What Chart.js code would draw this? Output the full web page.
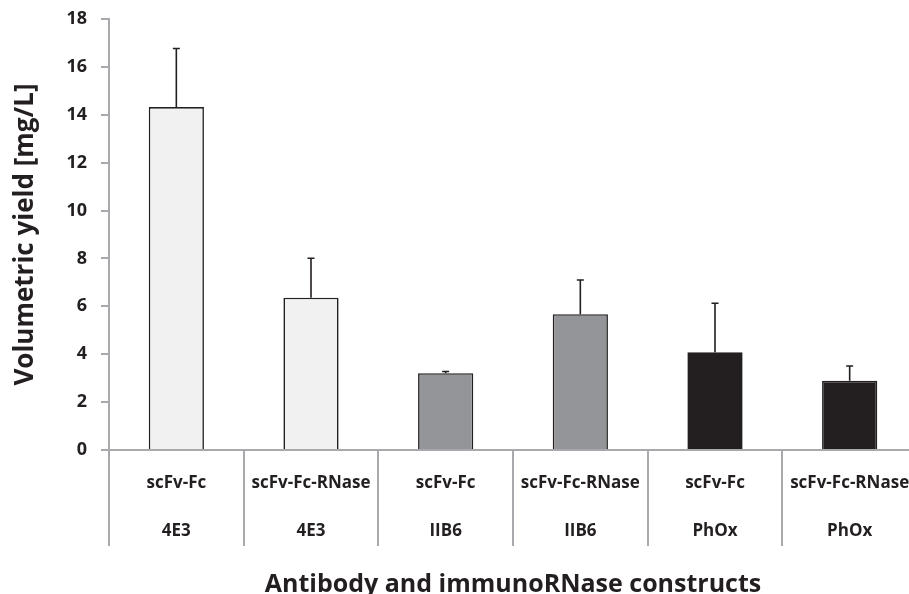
<!DOCTYPE html>
<html>
<head>
<meta charset="utf-8">
<script src="https://cdn.jsdelivr.net/npm/chart.js@4/dist/chart.umd.min.js"></script>
<style>
  html, body { margin: 0; padding: 0; background: #fff; overflow: hidden; }
  #wrap { position: relative; width: 920px; height: 600px; }
</style>
</head>
<body>
<div id="wrap"><canvas id="yieldChart"></canvas></div>
<script>
// data
const constructs = ['scFv-Fc', 'scFv-Fc-RNase', 'scFv-Fc', 'scFv-Fc-RNase', 'scFv-Fc', 'scFv-Fc-RNase'];
const antibodies = ['4E3', '4E3', 'IIB6', 'IIB6', 'PhOx', 'PhOx'];
const yields = [14.32, 6.36, 3.21, 5.67, 4.08, 2.89];
const yieldSd = [2.45, 1.65, 0.07, 1.43, 2.05, 0.62];
const yTicks = [0, 2, 4, 6, 8, 10, 12, 14, 16, 18];

const fills = ['#f0f1f0', '#f0f1f0', '#939598', '#939598', '#231f20', '#231f20'];
const axisGray = '#a7a9ac';
const textColor = '#231f20';

// upper error bars + separators between the two label rows
const extrasPlugin = {
    id: 'extras',
    afterDatasetsDraw(chart) {
        const ctx = chart.ctx;
        const meta = chart.getDatasetMeta(0);
        const y = chart.scales.y;
        ctx.save();
        ctx.strokeStyle = '#231f20';
        ctx.lineWidth = 1.6;
        meta.data.forEach((bar, i) => {
            const top = y.getPixelForValue(yields[i]);
            const end = y.getPixelForValue(yields[i] + yieldSd[i]);
            ctx.beginPath();
            ctx.moveTo(bar.x, top);
            ctx.lineTo(bar.x, end);
            ctx.moveTo(bar.x - 3.5, end);
            ctx.lineTo(bar.x + 3.5, end);
            ctx.stroke();
        });
        ctx.restore();
    },
    afterDraw(chart) {
        const ctx = chart.ctx;
        const x = chart.scales.x;
        const base = chart.chartArea.bottom;
        const half = (x.getPixelForValue(1) - x.getPixelForValue(0)) / 2;
        ctx.save();
        ctx.strokeStyle = axisGray;
        ctx.lineWidth = 2;
        for (let i = 0; i <= constructs.length; i++) {
            const px = Math.round(x.getPixelForValue(0) - half + i * 2 * half);
            ctx.beginPath();
            ctx.moveTo(px, base);
            ctx.lineTo(px, base + 96);
            ctx.stroke();
        }
        ctx.restore();
    }
};

new Chart(document.getElementById('yieldChart'), {
    type: 'bar',
    data: {
        labels: constructs.map((c, i) => [c, antibodies[i]]),
        datasets: [{
            data: yields,
            backgroundColor: fills,
            borderColor: '#231f20',
            borderWidth: 1.6,
            borderSkipped: 'bottom',
            categoryPercentage: 1,
            barPercentage: 0.41
        }]
    },
    options: {
        responsive: true,
        maintainAspectRatio: false,
        animation: false,
        layout: { padding: { top: 19, right: 3, left: 0, bottom: 0 } },
        plugins: {
            legend: { display: false },
            tooltip: { enabled: false }
        },
        scales: {
            x: {
                grid: { display: false, drawTicks: false },
                border: { color: axisGray, width: 2 },
                ticks: {
                    color: textColor,
                    padding: 9,
                    maxRotation: 0,
                    autoSkip: false,
                    font: { family: 'Open Sans', weight: 'bold', size: 17, lineHeight: '48px' }
                },
                title: {
                    display: true,
                    text: 'Antibody and immunoRNase constructs',
                    color: textColor,
                    font: { family: 'Open Sans', weight: 'bold', size: 25 },
                    padding: { top: 0, bottom: 0 }
                },
                afterFit(scale) { scale.height = 150; }
            },
            y: {
                min: 0,
                max: 18,
                afterBuildTicks(scale) { scale.ticks = yTicks.map(v => ({ value: v })); },
                grid: {
                    drawOnChartArea: false,
                    color: axisGray,
                    lineWidth: 2,
                    tickLength: 8
                },
                border: { color: axisGray, width: 2 },
                ticks: {
                    color: textColor,
                    padding: 14,
                    font: { family: 'Open Sans', weight: 'bold', size: 18 }
                },
                title: {
                    display: true,
                    text: 'Volumetric yield [mg/L]',
                    color: textColor,
                    font: { family: 'Open Sans', weight: 'bold', size: 26 },
                    padding: { top: 10, bottom: 0 }
                },
                afterFit(scale) {
                    scale.width = 109;
                    scale.paddingTop = 10;
                    scale.paddingBottom = 10;
                }
            }
        }
    },
    plugins: [extrasPlugin]
});
</script>
</body>
</html>
